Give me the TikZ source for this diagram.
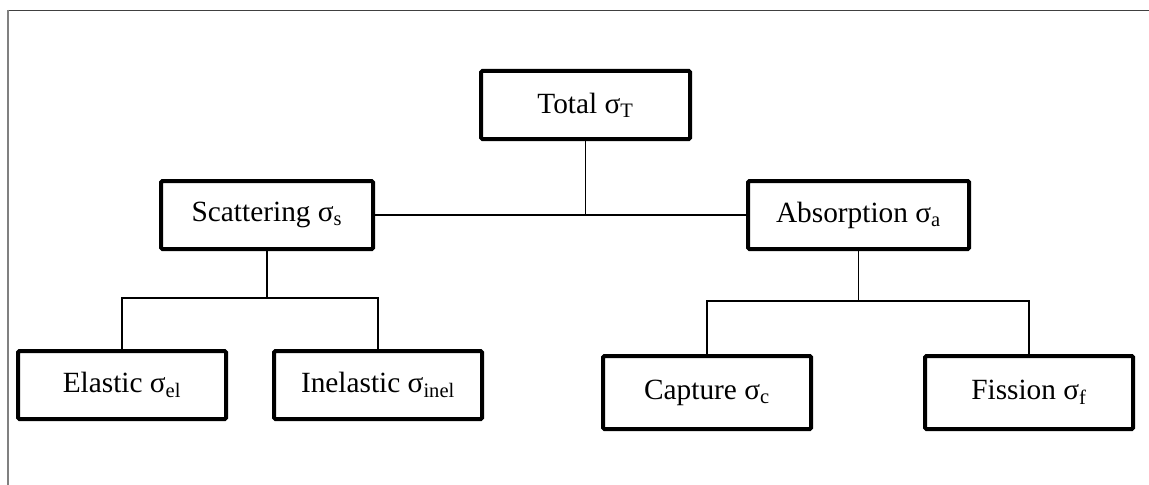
\documentclass[tikz,border=0pt]{standalone}
\usepackage{fontspec}
\setmainfont{Liberation Serif}
\begin{document}
\begin{tikzpicture}[x=0.75pt,y=-0.75pt,
  xsbox/.style={draw=black, line width=3pt, rounded corners=1pt, fill=white,
    inner sep=0pt, minimum height=51pt, align=center,
    font=\fontsize{22}{26}\selectfont},
  link/.style={draw=black, line width=1.4pt}]
\useasboundingbox (0,0) rectangle (1149,485);
% frame lines
\draw[color=black!75, line width=1.2pt] (8,10.5) -- (1149,10.5);
\draw[color=black!50, line width=1.6pt] (8,10) -- (8,485);

% boxes
\node[xsbox, minimum width=156.75pt] (tot) at (585.5,105) {Total σ\textsubscript{T}};
\node[xsbox, minimum width=159pt] (sca) at (267,215) {Scattering σ\textsubscript{s}};
\node[xsbox, minimum width=165.75pt] (abs) at (858.5,215) {Absorption σ\textsubscript{a}};
\node[xsbox, minimum width=156pt] (ela) at (122,385) {Elastic σ\textsubscript{el}};
\node[xsbox, minimum width=156pt] (ine) at (378,385) {Inelastic σ\textsubscript{inel}};
\node[xsbox, minimum width=156pt, minimum height=54.75pt] (cap) at (707,392.5) {Capture σ\textsubscript{c}};
\node[xsbox, minimum width=156pt, minimum height=54.75pt] (fis) at (1029,392.5) {Fission σ\textsubscript{f}};

% junction levels
\coordinate (sj) at (266,298);
\coordinate (aj) at (858,301);

% connectors
\draw[link] (sca.east) -- (abs.west);
\draw[link] (tot.south) -- (tot.south |- sca.east);
\draw[link] (sca.south) -- (sca.south |- sj);
\draw[link] (ela.north) -- (ela.north |- sj) -- (ine.north |- sj) -- (ine.north);
\draw[link] (abs.south) -- (abs.south |- aj);
\draw[link] (cap.north) -- (cap.north |- aj) -- (fis.north |- aj) -- (fis.north);
\end{tikzpicture}
\end{document}
